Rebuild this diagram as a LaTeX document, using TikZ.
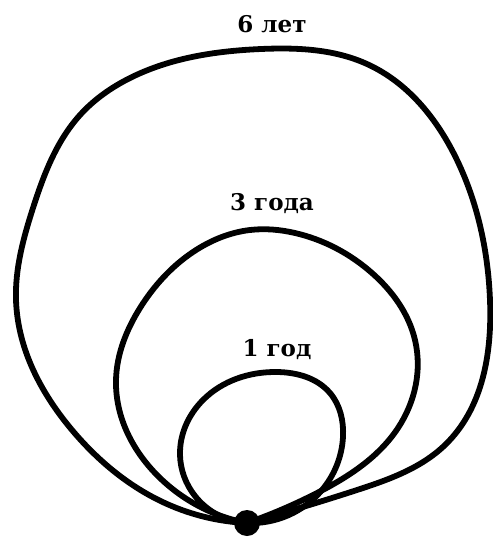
\documentclass[tikz,border=0pt]{standalone}
\usepackage{fontspec}
\setmainfont{DejaVu Serif}
\usetikzlibrary{hobby}
\begin{document}
\begin{tikzpicture}[x=1pt,y=-1pt,
  loop/.style={line width=5.8pt,line join=round,line cap=round,use Hobby shortcut},
  lbl/.style={anchor=base,inner sep=0pt,font=\fontsize{23}{28}\selectfont\bfseries}]
\useasboundingbox (0,0) rectangle (493,542);
\coordinate (O) at (247,523);
% outer loop
\draw[loop] (O) .. (167,504) .. (72,430) .. (16,300) .. (33,208) .. (80,115) .. (130,78) .. (261,49) .. (367,64) .. (457,160) .. (490,300) .. (445,445) .. (357,490) .. (O);
% middle loop
\draw[loop] (O) .. (160,478) .. (116,380) .. (140,308) .. (193,252) .. (250,230) .. (295,233) .. (372,273) .. (415,340) .. (398,428) .. (317,493) .. (O);
% inner loop
\draw[loop] (O) .. (195,496) .. (180,455) .. (203,400) .. (277,372) .. (330,393) .. (343,437) .. (322,490) .. (O);
\node[circle,fill,inner sep=0pt,minimum size=26pt] (dot) at (O) {};
\node[lbl] (l6) at (272,32) {6 лет};
\node[lbl] (l3) at (272,210) {3 года};
\node[lbl] (l1) at (277,356) {1 год};
\end{tikzpicture}
\end{document}
